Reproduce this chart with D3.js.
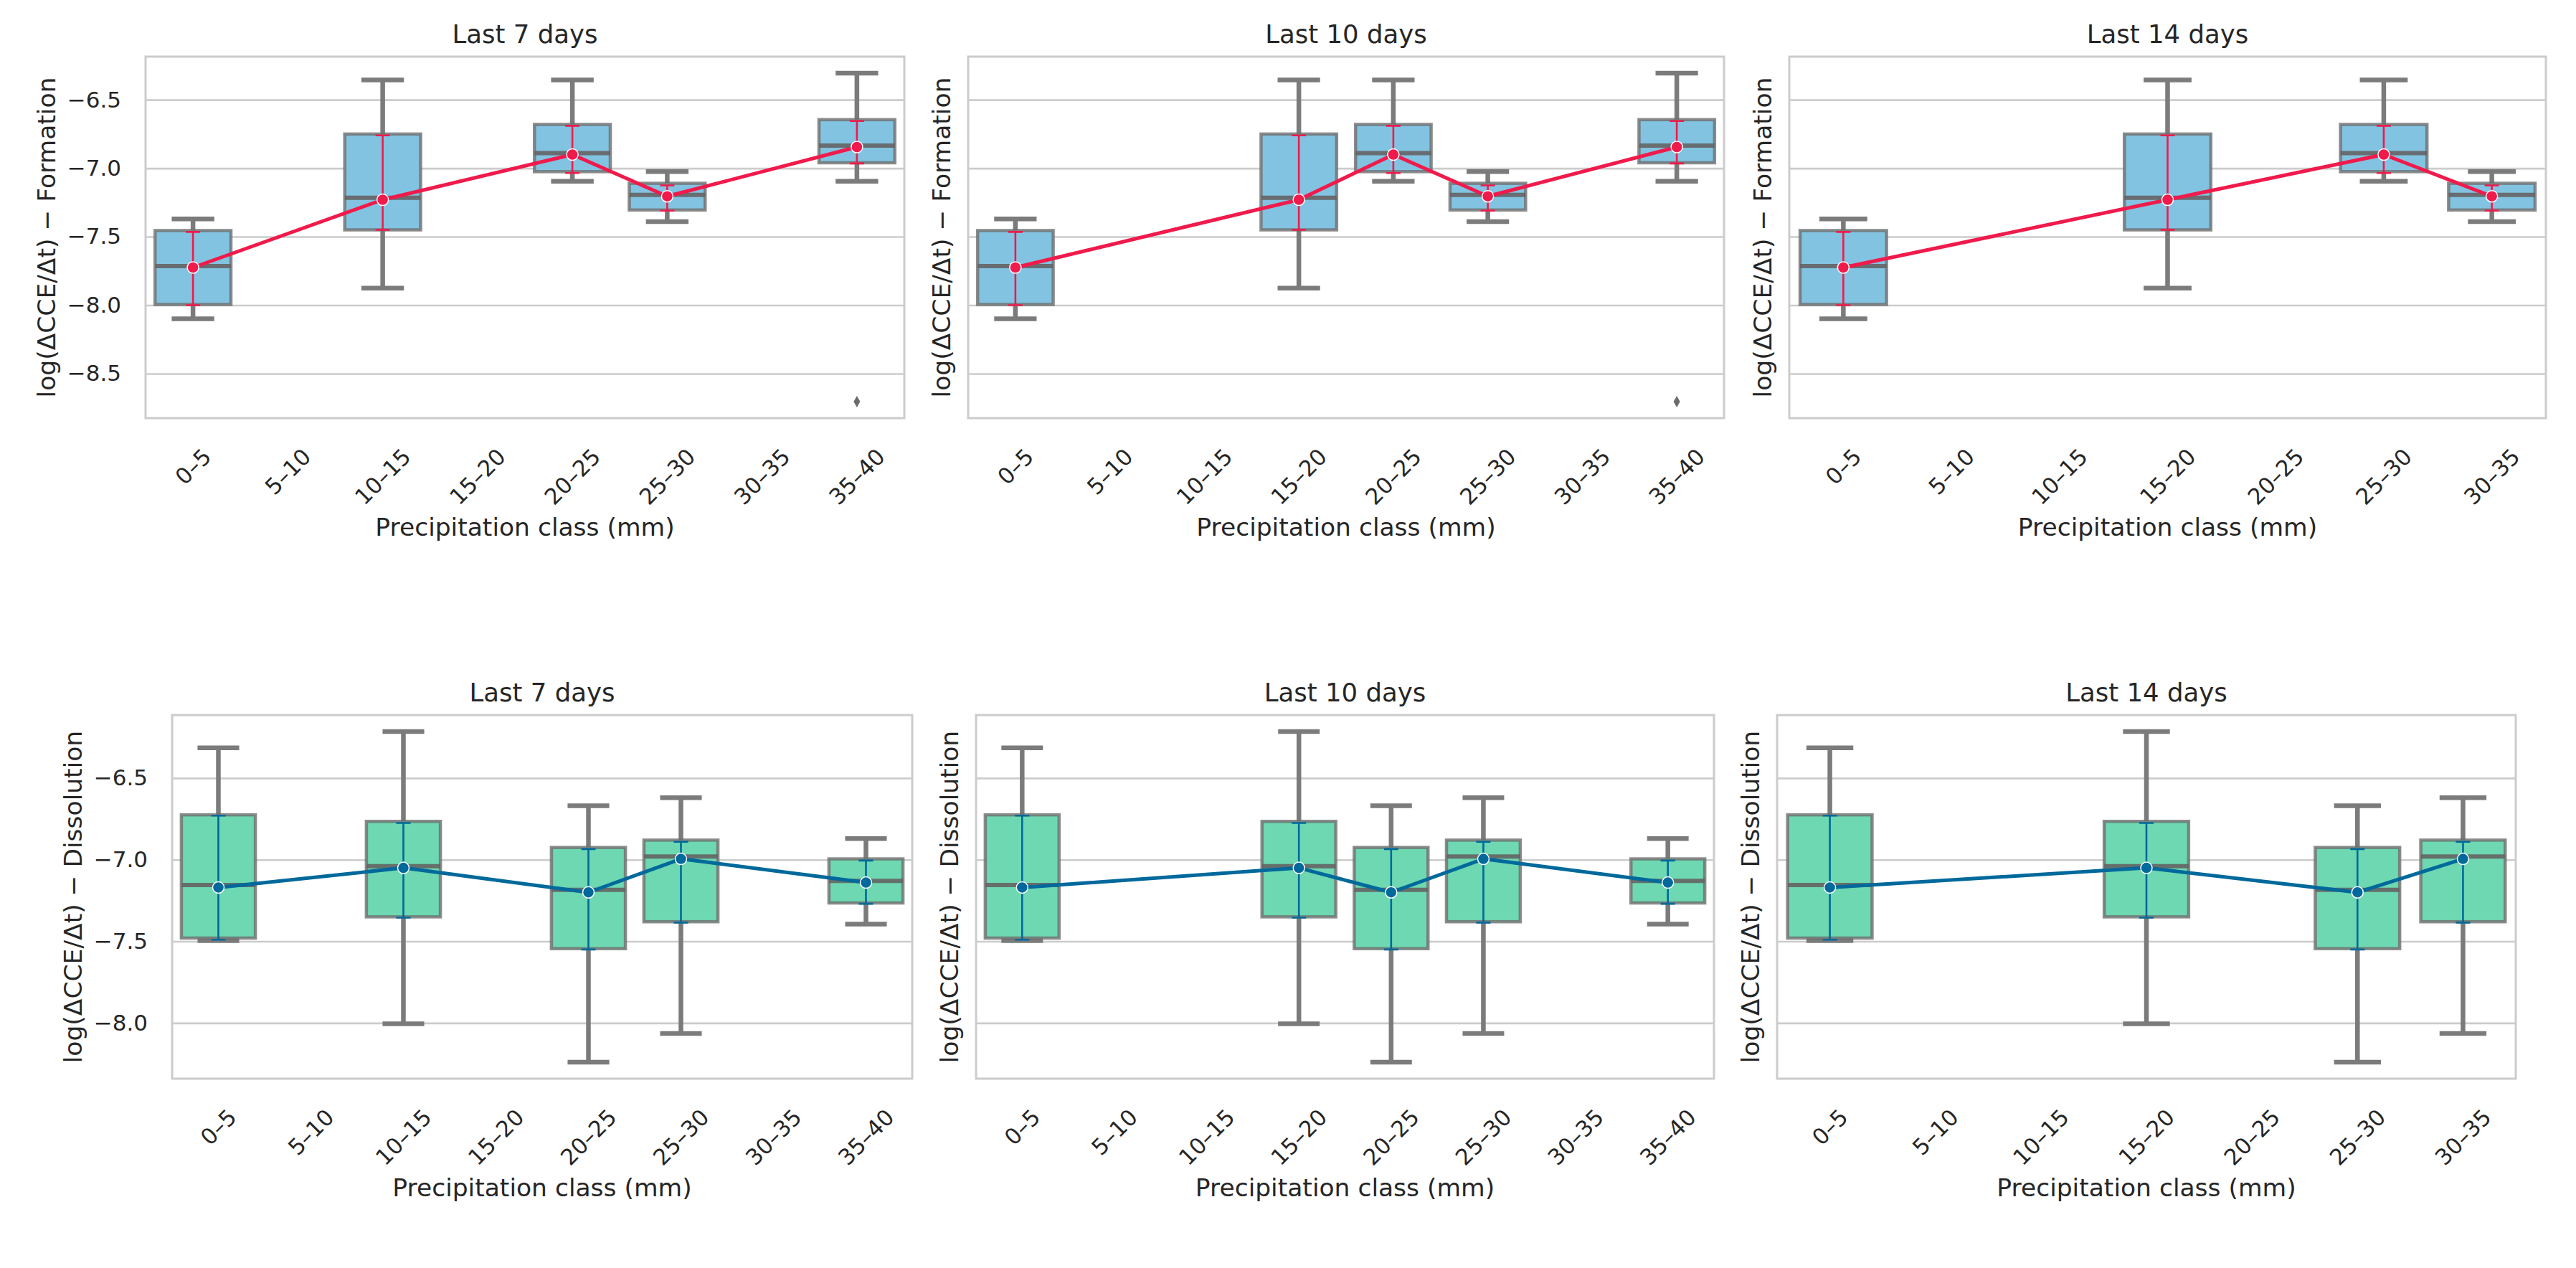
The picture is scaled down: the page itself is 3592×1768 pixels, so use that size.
<!DOCTYPE html>
<html>
<head>
<meta charset="utf-8">
<script src="https://d3js.org/d3.v7.min.js"></script>
<style>
  body { margin: 0; background: #fff; }
  text { font-family: "DejaVu Sans", sans-serif; fill: #262626; }
</style>
</head>
<body>
<svg id="vis"></svg>
<script>
  // categories on each x axis
  var classes8 = ["0–5", "5–10", "10–15", "15–20", "20–25", "25–30", "30–35", "35–40"];
  var classes7 = ["0–5", "5–10", "10–15", "15–20", "20–25", "25–30", "30–35"];
  var titles = ["Last 7 days", "Last 10 days", "Last 14 days"];
  var yTicksForm = [-8.5, -8.0, -7.5, -7.0, -6.5];
  var yTicksDiss = [-8.0, -7.5, -7.0, -6.5];

  // boxes: [low whisker, Q1, median, Q3, high whisker]
  // points: [CI low, mean, CI high]

  // Formation
  var formClasses7 = ["0–5", "10–15", "20–25", "25–30", "35–40"];
  var formBoxes7 = [
      [-8.10, -7.995, -7.715, -7.455, -7.37],
      [-7.875, -7.45, -7.215, -6.75, -6.355],
      [-7.095, -7.025, -6.89, -6.68, -6.355],
      [-7.39, -7.305, -7.195, -7.11, -7.025],
      [-7.095, -6.96, -6.835, -6.645, -6.305]];
  var formPoints7 = [
      [-8.00, -7.725, -7.465],
      [-7.45, -7.23, -6.76],
      [-7.035, -6.90, -6.69],
      [-7.31, -7.205, -7.125],
      [-6.965, -6.845, -6.655]];
  var formOutliers7 = [[], [], [], [], [-8.705]];

  var formClasses10 = ["0–5", "15–20", "20–25", "25–30", "35–40"];
  var formBoxes10 = [
      [-8.10, -7.995, -7.715, -7.455, -7.37],
      [-7.875, -7.45, -7.215, -6.75, -6.355],
      [-7.095, -7.025, -6.89, -6.68, -6.355],
      [-7.39, -7.305, -7.195, -7.11, -7.025],
      [-7.095, -6.96, -6.835, -6.645, -6.305]];
  var formPoints10 = [
      [-8.00, -7.725, -7.465],
      [-7.45, -7.23, -6.76],
      [-7.035, -6.90, -6.69],
      [-7.31, -7.205, -7.125],
      [-6.965, -6.845, -6.655]];
  var formOutliers10 = [[], [], [], [], [-8.705]];

  var formClasses14 = ["0–5", "15–20", "25–30", "30–35"];
  var formBoxes14 = [
      [-8.10, -7.995, -7.715, -7.455, -7.37],
      [-7.875, -7.45, -7.215, -6.75, -6.355],
      [-7.095, -7.025, -6.89, -6.68, -6.355],
      [-7.39, -7.305, -7.195, -7.11, -7.025]];
  var formPoints14 = [
      [-8.00, -7.725, -7.465],
      [-7.45, -7.23, -6.76],
      [-7.035, -6.90, -6.69],
      [-7.31, -7.205, -7.125]];
  var formOutliers14 = [[], [], [], []];

  // Dissolution
  var dissClasses7 = ["0–5", "10–15", "20–25", "25–30", "35–40"];
  var dissBoxes7 = [
      [-7.495, -7.48, -7.155, -6.725, -6.315],
      [-8.005, -7.35, -7.04, -6.765, -6.215],
      [-8.24, -7.545, -7.185, -6.925, -6.67],
      [-8.065, -7.38, -6.98, -6.88, -6.62],
      [-7.395, -7.265, -7.13, -6.995, -6.87]];
  var dissPoints7 = [
      [-7.49, -7.17, -6.73],
      [-7.355, -7.05, -6.775],
      [-7.55, -7.20, -6.935],
      [-7.385, -6.995, -6.89],
      [-7.27, -7.14, -7.005]];

  var dissClasses10 = ["0–5", "15–20", "20–25", "25–30", "35–40"];
  var dissBoxes10 = [
      [-7.495, -7.48, -7.155, -6.725, -6.315],
      [-8.005, -7.35, -7.04, -6.765, -6.215],
      [-8.24, -7.545, -7.185, -6.925, -6.67],
      [-8.065, -7.38, -6.98, -6.88, -6.62],
      [-7.395, -7.265, -7.13, -6.995, -6.87]];
  var dissPoints10 = [
      [-7.49, -7.17, -6.73],
      [-7.355, -7.05, -6.775],
      [-7.55, -7.20, -6.935],
      [-7.385, -6.995, -6.89],
      [-7.27, -7.14, -7.005]];

  var dissClasses14 = ["0–5", "15–20", "25–30", "30–35"];
  var dissBoxes14 = [
      [-7.495, -7.48, -7.155, -6.725, -6.315],
      [-8.005, -7.35, -7.04, -6.765, -6.215],
      [-8.24, -7.545, -7.185, -6.925, -6.67],
      [-8.065, -7.38, -6.98, -6.88, -6.62]];
  var dissPoints14 = [
      [-7.49, -7.17, -6.73],
      [-7.355, -7.05, -6.775],
      [-7.55, -7.20, -6.935],
      [-7.385, -6.995, -6.89]];

  var width = 3592;
  var height = 1768;

  var svg = d3.select('#vis')
      .attr('width', width)
      .attr('height', height);

  svg.append('rect')
      .attr('width', width)
      .attr('height', height)
      .attr('fill', '#fff');

  var rows = [
    { ylabel: 'log(ΔCCE/Δt) − Formation', ticks: yTicksForm,
      fill: '#82c3e1', color: '#f01a4b', top: 79, bottom: 583,
      xs: [[203, 1261], [1350, 2404], [2495, 3550]],
      panels: [
        { axis: classes8, classes: formClasses7, boxes: formBoxes7, points: formPoints7, outliers: formOutliers7 },
        { axis: classes8, classes: formClasses10, boxes: formBoxes10, points: formPoints10, outliers: formOutliers10 },
        { axis: classes7, classes: formClasses14, boxes: formBoxes14, points: formPoints14, outliers: formOutliers14 }] },
    { ylabel: 'log(ΔCCE/Δt) − Dissolution', ticks: yTicksDiss,
      fill: '#6dd8b1', color: '#00699b', top: 997, bottom: 1504,
      xs: [[240, 1272], [1361, 2390], [2478, 3508]],
      panels: [
        { axis: classes8, classes: dissClasses7, boxes: dissBoxes7, points: dissPoints7, outliers: [] },
        { axis: classes8, classes: dissClasses10, boxes: dissBoxes10, points: dissPoints10, outliers: [] },
        { axis: classes7, classes: dissClasses14, boxes: dissBoxes14, points: dissPoints14, outliers: [] }] }
  ];

  var fmt = d3.format('.1f');

  rows.forEach(function(row) {
    // shared y range for the row, 5% margin like matplotlib autoscale
    var vals = [];
    row.panels.forEach(function(p) {
      p.boxes.forEach(function(b) { vals = vals.concat(b); });
      p.points.forEach(function(b) { vals = vals.concat(b); });
      p.outliers.forEach(function(o) { vals = vals.concat(o); });
    });
    var ext = d3.extent(vals);
    var pad = (ext[1] - ext[0]) * 0.05;
    var y = d3.scaleLinear()
        .domain([ext[0] - pad, ext[1] + pad])
        .range([row.bottom, row.top]);

    row.panels.forEach(function(p, i) {
      var x0 = row.xs[i][0], x1 = row.xs[i][1];
      var x = d3.scaleBand().domain(p.axis).range([x0, x1]);
      var bw = x.bandwidth() * 0.8;
      var cx = function(c) { return x(c) + x.bandwidth() / 2; };
      var g = svg.append('g');

      // grid + y tick labels
      var ya = g.append('g')
          .attr('transform', 'translate(' + x0 + ',0)')
          .call(d3.axisLeft(y).tickValues(row.ticks).tickSize(-(x1 - x0)).tickPadding(34)
              .tickFormat(i == 0 ? fmt : function() { return ''; }));
      ya.attr('font-size', 31).attr('font-family', 'DejaVu Sans');
      ya.select('.domain').remove();
      ya.selectAll('line').attr('stroke', '#cccccc').attr('stroke-width', 2.6);
      ya.selectAll('text').attr('fill', '#262626').style('font-size', '31px');

      // x tick labels, rotated 45
      var xa = g.append('g')
          .attr('transform', 'translate(0,' + row.bottom + ')')
          .call(d3.axisBottom(x).tickSize(0));
      xa.attr('font-size', 31).attr('font-family', 'DejaVu Sans');
      xa.select('.domain').remove();
      xa.selectAll('text')
          .attr('fill', '#262626')
          .style('font-size', '31px')
          .attr('y', null)
          .attr('dy', null)
          .attr('dominant-baseline', 'central')
          .attr('transform', function() {
              var w = this.getComputedTextLength();
              var half = (w + 23) * Math.SQRT1_2 / 2;
              return 'translate(0,' + (40 + half) + ') rotate(-45)';
          });

      var data = p.classes.map(function(c, k) {
        return { c: c, b: p.boxes[k], pt: p.points[k], out: p.outliers[k] || [] };
      });

      // whiskers
      g.selectAll('.whisk').data(data).enter().append('path')
          .attr('d', function(d) {
              return 'M' + cx(d.c) + ',' + y(d.b[0]) + 'V' + y(d.b[1]) +
                     'M' + cx(d.c) + ',' + y(d.b[3]) + 'V' + y(d.b[4]);
          })
          .attr('stroke', '#7b7b7b')
          .attr('stroke-width', 6.5)
          .attr('fill', 'none');

      // caps
      g.selectAll('.cap').data(data).enter().append('path')
          .attr('d', function(d) {
              return 'M' + (cx(d.c) - bw / 4) + ',' + y(d.b[0]) + 'H' + (cx(d.c) + bw / 4) +
                     'M' + (cx(d.c) - bw / 4) + ',' + y(d.b[4]) + 'H' + (cx(d.c) + bw / 4);
          })
          .attr('stroke', '#7b7b7b')
          .attr('stroke-width', 6.5)
          .attr('stroke-linecap', 'square');

      // boxes
      g.selectAll('.box').data(data).enter().append('rect')
          .attr('x', function(d) { return cx(d.c) - bw / 2; })
          .attr('y', function(d) { return y(d.b[3]); })
          .attr('width', bw)
          .attr('height', function(d) { return y(d.b[1]) - y(d.b[3]); })
          .attr('fill', row.fill)
          .attr('stroke', 'rgba(110,110,110,0.8)')
          .attr('stroke-width', 4.5);

      // medians
      g.selectAll('.med').data(data).enter().append('line')
          .attr('x1', function(d) { return cx(d.c) - bw / 2; })
          .attr('x2', function(d) { return cx(d.c) + bw / 2; })
          .attr('y1', function(d) { return y(d.b[2]); })
          .attr('y2', function(d) { return y(d.b[2]); })
          .attr('stroke', 'rgba(100,100,100,0.9)')
          .attr('stroke-width', 6);

      // outliers
      g.selectAll('.out').data(data.flatMap(function(d) {
            return d.out.map(function(v) { return { c: d.c, v: v }; });
          })).enter().append('path')
          .attr('d', function(d) {
              var px = cx(d.c), py = y(d.v);
              return 'M' + px + ',' + (py - 8) + 'L' + (px + 4.5) + ',' + py +
                     'L' + px + ',' + (py + 8) + 'L' + (px - 4.5) + ',' + py + 'Z';
          })
          .attr('fill', '#6b6b6b');

      // mean line
      g.append('path')
          .datum(data)
          .attr('d', d3.line()
              .x(function(d) { return cx(d.c); })
              .y(function(d) { return y(d.pt[1]); }))
          .attr('fill', 'none')
          .attr('stroke', row.color)
          .attr('stroke-width', 5)
          .attr('stroke-linejoin', 'round');

      // confidence intervals
      g.selectAll('.ci').data(data).enter().append('path')
          .attr('d', function(d) {
              var px = cx(d.c);
              return 'M' + px + ',' + y(d.pt[0]) + 'V' + y(d.pt[2]) +
                     'M' + (px - 10) + ',' + y(d.pt[0]) + 'H' + (px + 10) +
                     'M' + (px - 10) + ',' + y(d.pt[2]) + 'H' + (px + 10);
          })
          .attr('stroke', row.color)
          .attr('stroke-width', 2.6)
          .attr('fill', 'none');

      // mean markers
      g.selectAll('.mean').data(data).enter().append('circle')
          .attr('cx', function(d) { return cx(d.c); })
          .attr('cy', function(d) { return y(d.pt[1]); })
          .attr('r', 8)
          .attr('fill', row.color)
          .attr('stroke', '#fff')
          .attr('stroke-width', 1.5);

      // frame
      g.append('rect')
          .attr('x', x0)
          .attr('y', row.top)
          .attr('width', x1 - x0)
          .attr('height', row.bottom - row.top)
          .attr('fill', 'none')
          .attr('stroke', '#cccccc')
          .attr('stroke-width', 3);

      // title and labels
      g.append('text')
          .attr('x', (x0 + x1) / 2)
          .attr('y', row.top - 19)
          .attr('text-anchor', 'middle')
          .style('font-size', '35.5px')
          .text(titles[i]);

      g.append('text')
          .attr('x', (x0 + x1) / 2)
          .attr('y', row.bottom + 152)
          .attr('text-anchor', 'middle')
          .attr('dominant-baseline', 'central')
          .style('font-size', '34.5px')
          .text('Precipitation class (mm)');

      var lx = x0 - (i == 0 ? 138 : 37);
      var ly = (row.top + row.bottom) / 2;
      g.append('text')
          .attr('transform', 'translate(' + lx + ',' + ly + ') rotate(-90)')
          .attr('text-anchor', 'middle')
          .attr('dominant-baseline', 'central')
          .style('font-size', '34.5px')
          .text(row.ylabel);
    });
  });
</script>
</body>
</html>
